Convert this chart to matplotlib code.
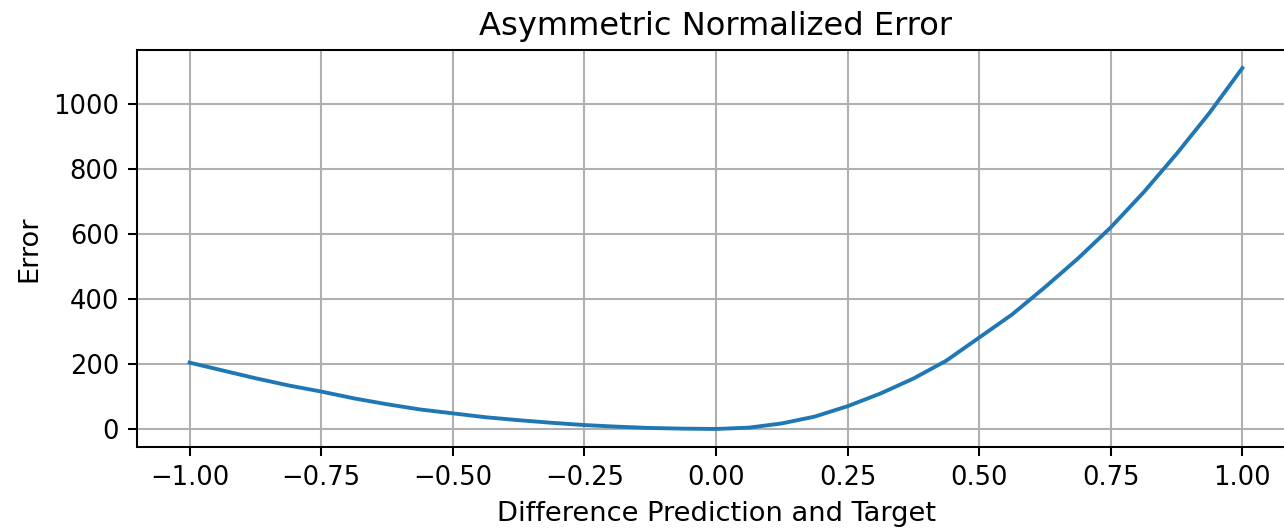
import numpy as np
import matplotlib
matplotlib.use("Agg")
import matplotlib.pyplot as plt

# --------------------------------------------------
# Data
# --------------------------------------------------
difference = [-1.0, -0.9375, -0.875, -0.8125, -0.75, -0.6875, -0.625, -0.5625,
              -0.5, -0.4375, -0.375, -0.3125, -0.25, -0.1875, -0.125, -0.0625,
              0.0, 0.0625, 0.125, 0.1875, 0.25, 0.3125, 0.375, 0.4375,
              0.5, 0.5625, 0.625, 0.6875, 0.75, 0.8125, 0.875, 0.9375, 1.0]
error = [204, 180, 156, 134, 115, 94, 76, 60,
         48, 36, 27, 19, 12, 7, 3, 1,
         0, 4, 17, 38, 70, 109, 155, 210,
         281, 352, 436, 524, 620, 728, 846, 972, 1110]

# --------------------------------------------------
# Plot
# --------------------------------------------------
dpi = 185
fig = plt.figure(figsize=(1284 / dpi, 529 / dpi), dpi=dpi)
ax = fig.add_axes([137 / 1284, 82 / 529, 1158 / 1284, 397 / 529])

ax.plot(difference, error, color="#1f77b4", linewidth=1.5)
ax.set_title("Asymmetric Normalized Error", fontsize=12.5)
ax.set_xlabel("Difference Prediction and Target", fontsize=10.6)
ax.set_ylabel("Error", fontsize=10.6)
ax.set_xticks([-1.0, -0.75, -0.5, -0.25, 0.0, 0.25, 0.5, 0.75, 1.0])
ax.grid(True)

fig.savefig("out.png", dpi=dpi)
